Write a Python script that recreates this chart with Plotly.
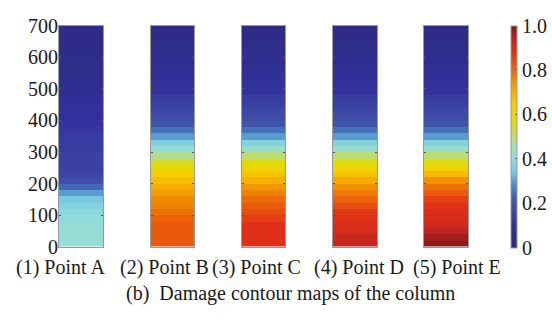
import plotly.graph_objects as go

# Height bands along the column (mm), 20 mm per band, bottom to top
band_edges = list(range(0, 720, 20))

labels = ["(1) Point A", "(2) Point B", "(3) Point C", "(4) Point D", "(5) Point E"]

# Damage index in each band, bottom (0) to top (700)
damage_a = [0.41, 0.41, 0.41, 0.41, 0.40, 0.39, 0.37, 0.34, 0.30, 0.24,
            0.19, 0.16, 0.15, 0.15, 0.15, 0.14, 0.14, 0.13, 0.12, 0.11,
            0.10, 0.10, 0.09, 0.09, 0.06, 0.05, 0.05, 0.04, 0.04, 0.04,
            0.03, 0.03, 0.03, 0.03, 0.03]
damage_b = [0.82, 0.82, 0.82, 0.82, 0.81, 0.79, 0.77, 0.76, 0.73, 0.70,
            0.67, 0.63, 0.60, 0.55, 0.48, 0.41, 0.36, 0.30, 0.25, 0.21,
            0.19, 0.17, 0.15, 0.14, 0.11, 0.10, 0.09, 0.08, 0.07, 0.06,
            0.05, 0.04, 0.04, 0.03, 0.03]
damage_c = [0.88, 0.88, 0.88, 0.88, 0.86, 0.84, 0.82, 0.80, 0.77, 0.74,
            0.70, 0.66, 0.61, 0.57, 0.50, 0.42, 0.37, 0.30, 0.25, 0.21,
            0.19, 0.17, 0.15, 0.14, 0.11, 0.10, 0.09, 0.08, 0.07, 0.06,
            0.05, 0.04, 0.04, 0.03, 0.03]
damage_d = [0.93, 0.92, 0.90, 0.89, 0.88, 0.87, 0.84, 0.81, 0.78, 0.75,
            0.71, 0.66, 0.61, 0.57, 0.50, 0.42, 0.37, 0.30, 0.25, 0.21,
            0.19, 0.17, 0.15, 0.14, 0.11, 0.10, 0.09, 0.08, 0.07, 0.06,
            0.05, 0.04, 0.04, 0.03, 0.03]
damage_e = [0.99, 0.97, 0.94, 0.91, 0.90, 0.89, 0.88, 0.86, 0.82, 0.79,
            0.75, 0.68, 0.62, 0.57, 0.50, 0.42, 0.37, 0.30, 0.25, 0.21,
            0.19, 0.17, 0.15, 0.14, 0.11, 0.10, 0.09, 0.08, 0.07, 0.06,
            0.05, 0.04, 0.04, 0.03, 0.03]
columns = [damage_a, damage_b, damage_c, damage_d, damage_e]

y_ticks = [0, 100, 200, 300, 400, 500, 600, 700]
cbar_ticks = [0, 0.2, 0.4, 0.6, 0.8, 1.0]
cbar_text = ["0", "0.2", "0.4", "0.6", "0.8", "1.0"]

damage_scale = [
    [0.00, "#2c2a7c"], [0.06, "#2f2e90"], [0.10, "#31309c"],
    [0.16, "#3c44a4"], [0.22, "#4058ac"], [0.28, "#4a88c8"],
    [0.34, "#78c8e0"], [0.40, "#90dcdc"], [0.46, "#a8dcb0"],
    [0.52, "#c8dc50"], [0.58, "#e4dc00"], [0.64, "#f8cc00"],
    [0.70, "#f8b000"], [0.76, "#f08a00"], [0.82, "#ea5a0c"],
    [0.88, "#e03018"], [0.94, "#c02420"], [1.00, "#801818"],
]

W, H = 552, 320
col_px = [(59, 103), (151, 194), (242, 285), (333, 377), (424, 468)]
label_px = [60, 164, 256, 359, 457]
plot_top, plot_bot = 16, 253
serif = "Liberation Serif, Times New Roman, serif"
FS = 20

fig = go.Figure()
layout = {}
for i, vals in enumerate(columns):
    suffix = "" if i == 0 else str(i + 1)
    fig.add_trace(go.Heatmap(
        x=[0, 1], y=band_edges, z=[[v] for v in vals],
        coloraxis="coloraxis",
        xaxis="x" + suffix, yaxis="y" + suffix,
        hoverinfo="skip",
    ))
    x0, x1 = col_px[i]
    layout["xaxis" + suffix] = dict(
        domain=[x0 / W, x1 / W], range=[0, 1], anchor="y" + suffix,
        showticklabels=False, ticks="", showgrid=False, zeroline=False,
        showline=True, linecolor="#9a9a9a", linewidth=1, mirror=True,
    )
    layout["yaxis" + suffix] = dict(
        domain=[(H - plot_bot) / H, (H - plot_top) / H], range=[0, 700],
        anchor="x" + suffix, tickvals=y_ticks, showticklabels=(i == 0),
        ticks="inside", ticklen=2, tickcolor="#555", mirror="ticks",
        showgrid=False, zeroline=False, showline=True,
        linecolor="#9a9a9a", linewidth=1, ticklabelstandoff=-4,
        tickfont=dict(family=serif, size=FS, color="#1a1a1a"),
    )

annotations = []
for lab, xc in zip(labels, label_px):
    annotations.append(dict(
        text=lab, x=xc / W, y=(H - 275) / H, xref="paper", yref="paper",
        xanchor="center", yanchor="middle", showarrow=False,
        font=dict(family=serif, size=FS, color="#1a1a1a"),
    ))
annotations.append(dict(
    text="(b)\u00a0 Damage contour maps of the column",
    x=290 / W, y=(H - 303) / H, xref="paper", yref="paper",
    xanchor="center", yanchor="middle", showarrow=False,
    font=dict(family=serif, size=FS, color="#1a1a1a"),
))

fig.update_layout(
    width=W, height=H, margin=dict(l=0, r=0, t=0, b=0),
    paper_bgcolor="white", plot_bgcolor="white",
    showlegend=False, annotations=annotations,
    coloraxis=dict(
        colorscale=damage_scale, cmin=0, cmax=1,
        colorbar=dict(
            x=511 / W, xanchor="left", xpad=0,
            y=(H - 254) / H, yanchor="bottom", ypad=0,
            len=(254 - 16) / H, lenmode="fraction", thickness=6,
            outlinecolor="#9a9a9a", outlinewidth=1,
            tickvals=cbar_ticks, ticktext=cbar_text,
            ticks="inside", ticklen=2, tickcolor="#555",
            tickfont=dict(family=serif, size=FS, color="#1a1a1a"),
        ),
    ),
    **layout,
)

fig.write_html("out.html")
